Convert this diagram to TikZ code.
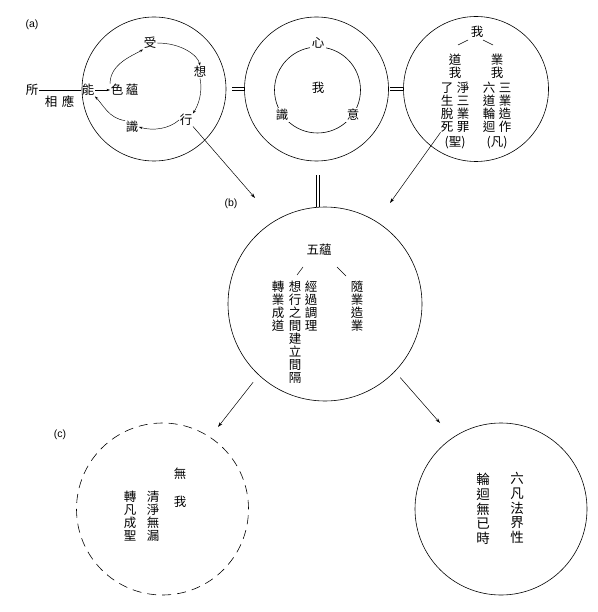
\documentclass[tikz,border=0pt]{standalone}
\usepackage{fontspec}
\setmainfont{Liberation Sans}
\newfontfamily\cjk{Noto Sans CJK TC}
\usetikzlibrary{arrows.meta}
\begin{document}
\begin{tikzpicture}[x=1pt,y=-1pt,
  circ/.style={circle, draw, line width=0.6pt, minimum size=#1, inner sep=0pt},
  cj/.style={font=\cjk\fontsize{12.5}{13}\selectfont, inner sep=0.5pt},
  vcol/.style={font=\cjk\fontsize{12.5}{13}\selectfont, align=center, inner sep=0pt},
  vcolb/.style={font=\cjk\fontsize{13.5}{14.7}\selectfont, align=center, inner sep=0pt},
  lab/.style={font=\fontsize{10.5}{12}\selectfont, inner sep=0pt},
  arr/.style={-{Stealth[length=5pt,width=3.2pt]}, line width=0.5pt},
  carr/.style={-{Stealth[length=3.5pt,width=2.4pt]}, line width=0.45pt},
  thinl/.style={line width=0.5pt}]
\useasboundingbox (0,0) rectangle (597,612);

% circles
\node[circ=144pt] (A) at (154,89) {};
\node[circ=144pt] (B) at (316.5,89) {};
\node[circ=86pt] (Bi) at (317.5,90) {};
\node[circ=145pt] (C) at (476,89) {};
\node[circ=194pt] (D) at (325,304) {};
\node[circ=172pt, dash pattern=on 9pt off 6pt] (E) at (162.5,509) {};
\node[circ=172pt] (F) at (501,509) {};

% labels
\node[lab] (la) at (32,25) {(a)};
\node[lab] (lb) at (231,204) {(b)};
\node[lab] (lc) at (60,435) {(c)};

% circle A
\node[cj] (suo) at (32,90) {所};
\node[cj] (xiang) at (51,102) {相};
\node[cj] (ying) at (68,102) {應};
\node[cj] (neng) at (88,90) {能};
\node[cj] (se) at (117,90) {色};
\node[cj] (yun) at (132,90) {蘊};
\node[cj] (shou) at (150,43) {受};
\node[cj] (xng) at (200,72) {想};
\node[cj] (xing) at (186,120) {行};
\node[cj] (shi) at (132,127) {識};
\draw[thinl] (suo.east) -- (neng.west);
\draw[carr] (neng.east) -- (se.west);
\draw[carr] (se.north west) .. controls +(0,-20) and +(-10,6) .. (shou.south west);
\draw[carr] (shou.east) .. controls +(25,0) and +(-2,-10) .. (xng.north);
\draw[carr] (xng.south) .. controls +(3,15) and +(5,-8) .. (xing.north east);
\draw[carr] (xing.west) .. controls +(-10,9) and +(14,4) .. (shi.east);
\draw[carr] (shi.north west) .. controls +(-16,-2) and +(8,8) .. (neng.south east);

% circle B
\node[cj, fill=white, inner sep=1.5pt] (xin) at (318,43) {心};
\node[cj] (wob) at (318,88) {我};
\node[cj, fill=white, inner sep=1.5pt] (shib) at (282,115) {識};
\node[cj, fill=white, inner sep=1.5pt] (yi) at (353,115) {意};

% equals
\draw[thinl] ([shift={(6,-1.5)}]A.east) -- ([shift={(0,-1.5)}]B.west);
\draw[thinl] ([shift={(6,1.5)}]A.east) -- ([shift={(0,1.5)}]B.west);
\draw[thinl] ([shift={(1.5,-1.5)}]B.east) -- ([shift={(0,-1.5)}]C.west);
\draw[thinl] ([shift={(1.5,1.5)}]B.east) -- ([shift={(0,1.5)}]C.west);
\draw[thinl] ([shift={(-0.5,14)}]B.south) -- ([shift={(-0.5,0)}]B.south |- D.north);
\draw[thinl] ([shift={(2.5,14)}]B.south) -- ([shift={(2.5,0)}]B.south |- D.north);

% circle C
\node[cj] (cwo) at (477,32) {我};
\node[vcol] (daowo) at (455,66) {道\\我};
\node[vcol] (yewo) at (497,66) {業\\我};
\draw[thinl] ([shift={(-9,8)}]cwo.center) -- ([shift={(-19,13)}]cwo.center);
\draw[thinl] ([shift={(6,8)}]cwo.center) -- ([shift={(16,13)}]cwo.center);
\node[vcol] (c1) at (447,107.5) {了\\生\\脫\\死};
\node[vcol] (c2) at (463,107.5) {淨\\三\\業\\罪};
\node[vcol] (c3) at (489,107.5) {六\\道\\輪\\迴};
\node[vcol] (c4) at (505,107.5) {三\\業\\造\\作};
\node[cj] (sheng) at (455,143) {(聖)};
\node[cj] (fan) at (497,143) {(凡)};

% arrows to D
\coordinate (ab) at (255,198);
\coordinate (cb) at (390,203);
\draw[arr] (xing.south east) -- (ab);
\draw[arr] (c1.south west) -- (cb);

% circle D
\node[cj] (wuyun) at (319,250) {五蘊};
\draw[thinl] ([shift={(-16,17)}]wuyun.center) -- ([shift={(-22,25)}]wuyun.center);
\draw[thinl] ([shift={(18,17)}]wuyun.center) -- ([shift={(27,26)}]wuyun.center);
\node[vcol] (d1) at (278,306.5) {轉\\業\\成\\道};
\node[vcol] (d2) at (295,332) {想\\行\\之\\間\\建\\立\\間\\隔};
\node[vcol] (d3) at (311,306.5) {經\\過\\調\\理};
\node[vcol] (d4) at (357,306.5) {隨\\業\\造\\業};

% arrows to E, F
\coordinate (de) at (218,427);
\coordinate (df) at (440,423);
\draw[arr, shorten <=9pt] (D.227) -- (de);
\draw[arr, shorten <=8pt] (D.316) -- (df);

% circle E
\node[cj] (wu) at (180,474) {無};
\node[cj] (woe) at (180,502) {我};
\node[vcol] (e1) at (130,516.5) {轉\\凡\\成\\聖};
\node[vcol] (e2) at (153,516.5) {清\\淨\\無\\漏};

% circle F
\node[vcolb] (f1) at (517,508) {六\\凡\\法\\界\\性};
\node[vcolb] (f2) at (483,509) {輪\\迴\\無\\已\\時};
\end{tikzpicture}
\end{document}
